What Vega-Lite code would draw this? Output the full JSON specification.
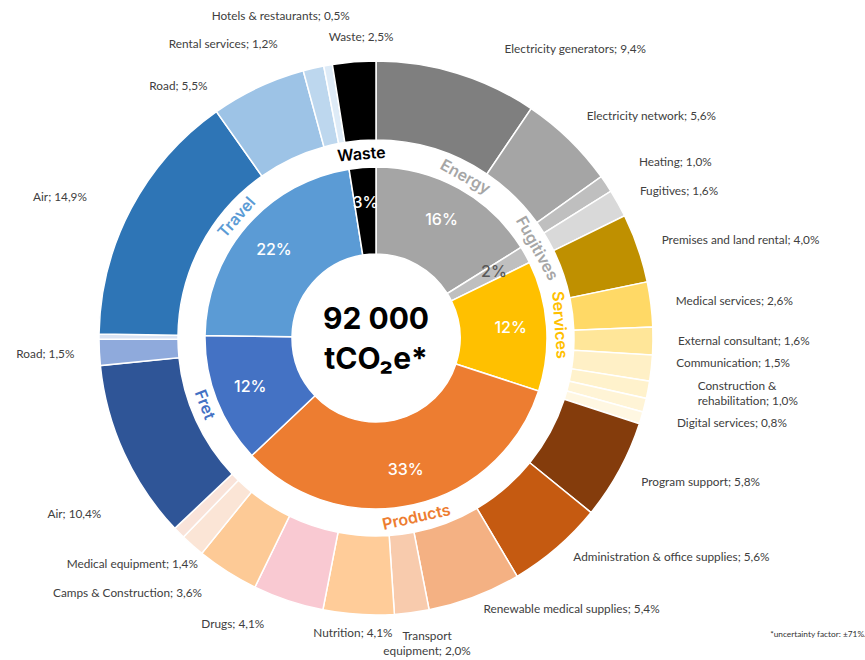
{
  "$schema": "https://vega.github.io/schema/vega-lite/v6.json",
  "width": 752,
  "height": 644,
  "autosize": {"type": "none"},
  "padding": {"left": 0, "top": 16, "right": 113, "bottom": 0},
  "background": "#ffffff",
  "config": {"view": {"stroke": null}},
  "title": {
    "text": "*uncertainty factor: ±71%.",
    "orient": "bottom",
    "anchor": "end",
    "frame": "group",
    "dx": 114,
    "dy": -34,
    "font": "Lato",
    "fontSize": 8.3,
    "fontWeight": "normal",
    "color": "#333333"
  },
  "datasets": {
    "outer": [
      {"cat": "Energy", "item": "Electricity generators", "v": 9.4, "txt": "Electricity generators; 9,4%", "o": 1},
      {"cat": "Energy", "item": "Electricity network", "v": 5.6, "txt": "Electricity network; 5,6%", "o": 2},
      {"cat": "Energy", "item": "Heating", "v": 1.0, "txt": "Heating; 1,0%", "o": 3},
      {"cat": "Fugitives", "item": "Fugitives", "v": 1.6, "txt": "Fugitives; 1,6%", "o": 4},
      {"cat": "Services", "item": "Premises and land rental", "v": 4.0, "txt": "Premises and land rental; 4,0%", "o": 5},
      {"cat": "Services", "item": "Medical services", "v": 2.6, "txt": "Medical services; 2,6%", "o": 6},
      {"cat": "Services", "item": "External consultant", "v": 1.6, "txt": "External consultant; 1,6%", "o": 7},
      {"cat": "Services", "item": "Communication", "v": 1.5, "txt": "Communication; 1,5%", "o": 8},
      {"cat": "Services", "item": "Construction & rehabilitation", "v": 1.0, "txt": "Construction &\nrehabilitation; 1,0%", "o": 9},
      {"cat": "Services", "item": "Digital services", "v": 0.8, "txt": "Digital services; 0,8%", "o": 10},
      {"cat": "Services", "item": "Other services", "v": 0.7, "txt": "", "o": 11},
      {"cat": "Products", "item": "Program support", "v": 5.8, "txt": "Program support; 5,8%", "o": 12},
      {"cat": "Products", "item": "Administration & office supplies", "v": 5.6, "txt": "Administration & office supplies; 5,6%", "o": 13},
      {"cat": "Products", "item": "Renewable medical supplies", "v": 5.4, "txt": "Renewable medical supplies; 5,4%", "o": 14},
      {"cat": "Products", "item": "Transport equipment", "v": 2.0, "txt": "Transport\nequipment; 2,0%", "o": 15},
      {"cat": "Products", "item": "Nutrition", "v": 4.1, "txt": "Nutrition; 4,1%", "o": 16},
      {"cat": "Products", "item": "Drugs", "v": 4.1, "txt": "Drugs; 4,1%", "o": 17},
      {"cat": "Products", "item": "Camps & Construction", "v": 3.6, "txt": "Camps & Construction; 3,6%", "o": 18},
      {"cat": "Products", "item": "Medical equipment", "v": 1.4, "txt": "Medical equipment; 1,4%", "o": 19},
      {"cat": "Products", "item": "Other products", "v": 0.7, "txt": "", "o": 20},
      {"cat": "Fret", "item": "Air freight", "v": 10.4, "txt": "Air; 10,4%", "o": 21},
      {"cat": "Fret", "item": "Road freight", "v": 1.5, "txt": "Road; 1,5%", "o": 22},
      {"cat": "Fret", "item": "Other freight", "v": 0.3, "txt": "", "o": 23},
      {"cat": "Travel", "item": "Air travel", "v": 14.9, "txt": "Air; 14,9%", "o": 24},
      {"cat": "Travel", "item": "Road travel", "v": 5.5, "txt": "Road; 5,5%", "o": 25},
      {"cat": "Travel", "item": "Rental services", "v": 1.2, "txt": "Rental services; 1,2%", "o": 26},
      {"cat": "Travel", "item": "Hotels & restaurants", "v": 0.5, "txt": "Hotels & restaurants; 0,5%", "o": 27},
      {"cat": "Waste", "item": "Waste", "v": 2.5, "txt": "Waste; 2,5%", "o": 28}
    ],
    "inner": [
      {"cat": "Energy", "v": 16.0, "pct": "16%", "o": 1},
      {"cat": "Fugitives", "v": 1.6, "pct": "2%", "o": 2},
      {"cat": "Services", "v": 12.2, "pct": "12%", "o": 3},
      {"cat": "Products", "v": 32.7, "pct": "33%", "o": 4},
      {"cat": "Fret", "v": 12.2, "pct": "12%", "o": 5},
      {"cat": "Travel", "v": 22.1, "pct": "22%", "o": 6},
      {"cat": "Waste", "v": 2.5, "pct": "3%", "o": 7}
    ],
    "center": [
      {"t": "92 000\ntCO₂e*"}
    ]
  },
  "resolve": {"scale": {"color": "independent"}},
  "layer": [
    {
      "data": {"name": "inner"},
      "mark": {"type": "arc", "innerRadius": 84, "outerRadius": 171, "stroke": "#ffffff", "strokeWidth": 1.5},
      "encoding": {
        "theta": {"field": "v", "type": "quantitative", "stack": true},
        "order": {"field": "o", "type": "quantitative"},
        "color": {
          "field": "cat", "type": "nominal", "legend": null,
          "scale": {
            "domain": ["Energy", "Fugitives", "Services", "Products", "Fret", "Travel", "Waste"],
            "range": ["#a5a5a5", "#bfbfbf", "#ffc000", "#ed7d31", "#4472c4", "#5b9bd5", "#000000"]
          }
        }
      }
    },
    {
      "data": {"name": "outer"},
      "mark": {"type": "arc", "innerRadius": 198, "outerRadius": 277, "stroke": "#ffffff", "strokeWidth": 1.5},
      "encoding": {
        "theta": {"field": "v", "type": "quantitative", "stack": true},
        "order": {"field": "o", "type": "quantitative"},
        "color": {
          "field": "item", "type": "nominal", "legend": null,
          "scale": {
            "domain": ["Electricity generators", "Electricity network", "Heating", "Fugitives", "Premises and land rental", "Medical services", "External consultant", "Communication", "Construction & rehabilitation", "Digital services", "Other services", "Program support", "Administration & office supplies", "Renewable medical supplies", "Transport equipment", "Nutrition", "Drugs", "Camps & Construction", "Medical equipment", "Other products", "Air freight", "Road freight", "Other freight", "Air travel", "Road travel", "Rental services", "Hotels & restaurants", "Waste"],
            "range": ["#7f7f7f", "#a5a5a5", "#bfbfbf", "#d9d9d9", "#bf9000", "#ffd966", "#ffe699", "#fff0c6", "#fff2cc", "#fff4d6", "#fff7e2", "#843c0c", "#c55a11", "#f4b183", "#f8cbad", "#ffcc99", "#f9c9d2", "#fdca96", "#fbe5d6", "#f9e3d9", "#2f5597", "#8faadc", "#dae3f3", "#2e75b6", "#9dc3e6", "#bdd7ee", "#deebf7", "#000000"]
          }
        }
      }
    },
    {
      "data": {"name": "inner"},
      "mark": {"type": "text", "radius": 135, "font": "Inter", "fontSize": 16, "fontWeight": 500, "align": "center", "baseline": "middle"},
      "encoding": {
        "theta": {"field": "v", "type": "quantitative", "stack": true},
        "order": {"field": "o", "type": "quantitative"},
        "detail": {"field": "cat", "type": "nominal"},
        "text": {"field": "pct", "type": "nominal"},
        "color": {"condition": {"test": "datum.cat === 'Fugitives'", "value": "#595959"}, "value": "#ffffff"}
      }
    },
    {
      "data": {"name": "inner"},
      "transform": [
        {"stack": "v", "groupby": [], "sort": [{"field": "o", "order": "ascending"}], "offset": "normalize", "as": ["f0", "f1"]}
      ],
      "mark": {
        "type": "text", "radius": 184, "font": "Inter", "fontSize": 16, "fontWeight": 600, "align": "center", "baseline": "middle",
        "angle": {"expr": "((datum.f0+datum.f1)*180 > 90 && (datum.f0+datum.f1)*180 < 270) ? (datum.f0+datum.f1)*180 - 180 : (datum.f0+datum.f1)*180"}
      },
      "encoding": {
        "theta": {"field": "v", "type": "quantitative", "stack": true},
        "order": {"field": "o", "type": "quantitative"},
        "text": {"field": "cat", "type": "nominal"},
        "color": {
          "field": "cat", "type": "nominal", "legend": null,
          "scale": {
            "domain": ["Energy", "Fugitives", "Services", "Products", "Fret", "Travel", "Waste"],
            "range": ["#a6a6a6", "#a6a6a6", "#ffc000", "#ed7d31", "#4472c4", "#5b9bd5", "#000000"]
          }
        }
      }
    },
    {
      "data": {"name": "outer"},
      "transform": [
        {"stack": "v", "groupby": [], "sort": [{"field": "o", "order": "ascending"}], "offset": "normalize", "as": ["f0", "f1"]}
      ],
      "mark": {
        "type": "text", "radius": 302, "font": "Lato", "fontSize": 11.8, "color": "#404040", "baseline": "middle", "lineBreak": "\n", "lineHeight": 15,
        "align": {"expr": "((datum.f0+datum.f1)*180 > 5 && (datum.f0+datum.f1)*180 < 168) ? 'left' : (((datum.f0+datum.f1)*180 > 192 && (datum.f0+datum.f1)*180 < 352) ? 'right' : 'center')"},
        "dx": {"expr": "datum.item === 'Electricity generators' ? 40 : datum.item === 'Heating' ? 12 : datum.item === 'Construction & rehabilitation' ? 25 : datum.item === 'Digital services' ? 8 : datum.item === 'Transport equipment' ? 12 : datum.item === 'Drugs' ? -16 : datum.item === 'Camps & Construction' ? -12 : datum.item === 'Medical equipment' ? 22 : datum.item === 'Air travel' ? -22 : datum.item === 'Road travel' ? -40 : datum.item === 'Rental services' ? -30 : datum.item === 'Hotels & restaurants' ? 26 : datum.item === 'Waste' ? 9 : datum.item === 'Nutrition' ? -4 : 0"},
        "dy": {"expr": "datum.item === 'Heating' ? -8 : datum.item === 'Electricity network' ? -6 : datum.item === 'Communication' ? -8 : datum.item === 'Construction & rehabilitation' ? -9 : datum.item === 'Digital services' ? 12 : datum.item === 'Administration & office supplies' ? -10 : datum.item === 'Renewable medical supplies' ? -11 : datum.item === 'Nutrition' ? -6 : datum.item === 'Transport equipment' ? -1 : datum.item === 'Air freight' ? 50 : datum.item === 'Road travel' ? 21 : datum.item === 'Hotels & restaurants' ? -25 : 0"}
      },
      "encoding": {
        "theta": {"field": "v", "type": "quantitative", "stack": true},
        "order": {"field": "o", "type": "quantitative"},
        "detail": {"field": "item", "type": "nominal"},
        "text": {"field": "txt", "type": "nominal"}
      }
    },
    {
      "data": {"name": "center"},
      "mark": {"type": "text", "font": "Inter", "fontSize": 30, "fontWeight": "bold", "color": "#000000", "align": "center", "baseline": "middle", "lineBreak": "\n", "lineHeight": 40, "dy": -18},
      "encoding": {
        "text": {"field": "t", "type": "nominal"}
      }
    }
  ]
}
